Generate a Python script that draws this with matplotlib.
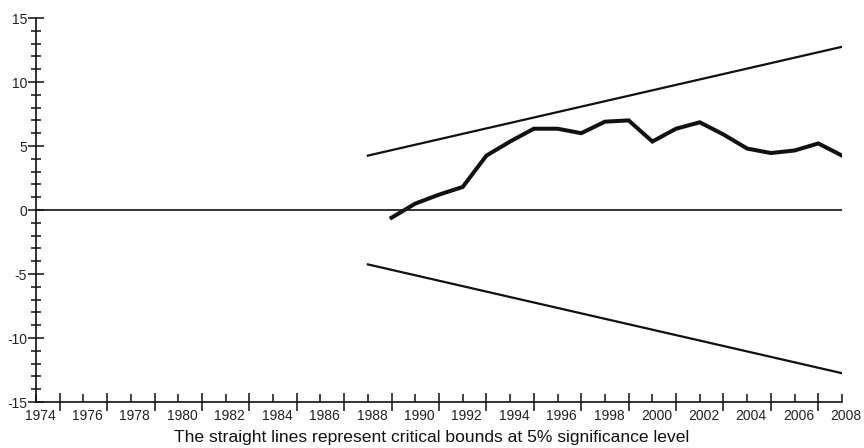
import numpy as np
import matplotlib.pyplot as plt
import matplotlib.transforms as mtransforms
from matplotlib.ticker import MultipleLocator, FixedLocator

plt.rcParams['font.family'] = ['Liberation Sans', 'DejaVu Sans']
plt.rcParams['axes.unicode_minus'] = False

# CUSUM statistic
years = [1989, 1990, 1991, 1992, 1993, 1994, 1995, 1996, 1997, 1998, 1999,
         2000, 2001, 2002, 2003, 2004, 2005, 2006, 2007, 2008]
cusum = [-0.6, 0.5, 1.2, 1.8, 4.25, 5.35, 6.35, 6.35, 6.0, 6.9, 7.0,
         5.35, 6.35, 6.85, 5.9, 4.8, 4.45, 4.65, 5.2, 4.25]

# critical bounds at 5% (straight lines)
bound_years = [1988, 2008]
upper_bound = [4.25, 12.75]
lower_bound = [-4.25, -12.75]

caption = "The straight lines represent critical bounds at 5% significance level"

fig = plt.figure(figsize=(8.64, 4.48), dpi=100)
ax = fig.add_axes([36 / 864, 1 - 402 / 448, (842 - 36) / 864, (402 - 18) / 448])

ink = '#111111'
ax.plot([1974, 2008], [0, 0], color=ink, lw=1.2)
ax.plot(bound_years, upper_bound, color=ink, lw=1.6)
ax.plot(bound_years, lower_bound, color=ink, lw=1.6)
ax.plot(years, cusum, color=ink, lw=2.9, solid_joinstyle='miter')

ax.set_xlim(1974, 2008)
ax.set_ylim(-15, 15)

for s in ['top', 'right']:
    ax.spines[s].set_visible(False)
for s in ['left', 'bottom']:
    ax.spines[s].set_color(ink)
    ax.spines[s].set_linewidth(1.2)

# x axis: labels on even years, longer crossing ticks on odd years
ax.xaxis.set_major_locator(FixedLocator(list(range(1974, 2009, 2))))
ax.xaxis.set_minor_locator(FixedLocator(list(range(1975, 2008, 2))))
ax.tick_params(axis='x', which='major', direction='in', length=6, width=1.1,
               color=ink, labelsize=10, pad=5, labelcolor='#222222')
ax.tick_params(axis='x', which='minor', direction='inout', length=13, width=1.1,
               color=ink)
offset = mtransforms.ScaledTranslation(4 / 100, 0, fig.dpi_scale_trans)
for lab in ax.get_xticklabels():
    lab.set_transform(lab.get_transform() + offset)

# y axis
ax.yaxis.set_major_locator(MultipleLocator(5))
ax.yaxis.set_minor_locator(MultipleLocator(1))
ax.tick_params(axis='y', which='major', direction='inout', length=11, width=1.1,
               color=ink, labelsize=10, pad=1, labelcolor='#222222')
ax.tick_params(axis='y', which='minor', direction='inout', length=7, width=1.1,
               color=ink)

fig.text(432 / 864, 1 - 437 / 448, caption, ha='center', va='center',
         fontsize=12.6, color='#111111')

fig.savefig('out.png', dpi=100)
